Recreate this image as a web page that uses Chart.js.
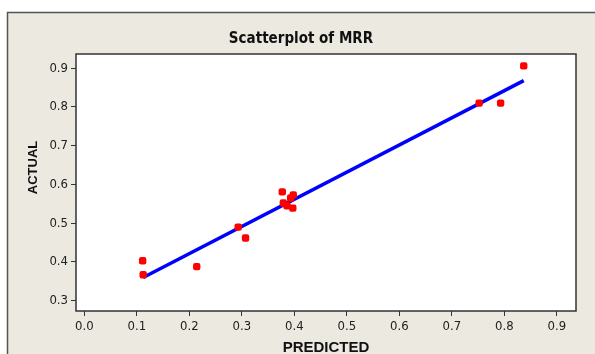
<!DOCTYPE html>
<html>
<head>
<meta charset="utf-8">
<script src="https://cdn.jsdelivr.net/npm/chart.js@4/dist/chart.umd.min.js"></script>
<style>
  html, body { margin: 0; padding: 0; background: #fff; }
</style>
</head>
<body>
<canvas id="mrrChart" width="595" height="354"></canvas>
<script>
const predicted = [0.111, 0.112, 0.214, 0.293, 0.307, 0.377, 0.379, 0.386, 0.393, 0.398, 0.397, 0.752, 0.793, 0.837];
const actual = [0.403, 0.367, 0.388, 0.490, 0.462, 0.581, 0.552, 0.545, 0.565, 0.573, 0.539, 0.810, 0.810, 0.906];
const fitPredicted = [0.112, 0.837];
const fitActual = [0.360, 0.868];
const xTicks = [0.0, 0.1, 0.2, 0.3, 0.4, 0.5, 0.6, 0.7, 0.8, 0.9];
const yTicks = [0.3, 0.4, 0.5, 0.6, 0.7, 0.8, 0.9];

const tickFont = { family: "'DejaVu Sans Condensed', 'DejaVu Sans', sans-serif", size: 13 };

// beige panel, outer frame, white plot area and its border, y axis title
const frame = {
  id: "frame",
  beforeDraw(chart) {
    const ctx = chart.ctx;
    const a = chart.chartArea;
    ctx.save();
    ctx.fillStyle = "#fff";
    ctx.fillRect(0, 0, chart.width, chart.height);
    ctx.fillStyle = "#ECE9E0";
    ctx.fillRect(7, 12, chart.width - 7, chart.height - 12);
    ctx.strokeStyle = "#555";
    ctx.lineWidth = 1.5;
    ctx.beginPath();
    ctx.moveTo(7.5, chart.height);
    ctx.lineTo(7.5, 12.5);
    ctx.lineTo(chart.width, 12.5);
    ctx.stroke();
    ctx.fillStyle = "#fff";
    ctx.fillRect(a.left, a.top, a.width, a.height);
    ctx.restore();
  },
  beforeDatasetsDraw(chart) {
    const ctx = chart.ctx;
    const a = chart.chartArea;
    ctx.save();
    ctx.strokeStyle = "#333";
    ctx.lineWidth = 1.5;
    ctx.strokeRect(a.left, a.top, a.width, a.height);
    ctx.translate(33, 167.5);
    ctx.rotate(-Math.PI / 2);
    ctx.fillStyle = "#111";
    ctx.font = "bold 13px 'Liberation Sans', Arial, sans-serif";
    ctx.textAlign = "center";
    ctx.textBaseline = "middle";
    ctx.fillText("ACTUAL", 0, 0);
    ctx.restore();
  },
};

new Chart(document.getElementById("mrrChart"), {
  type: "scatter",
  data: {
    datasets: [
      {
        label: "MRR",
        data: predicted.map((p, i) => ({ x: p, y: actual[i] })),
        backgroundColor: "#FF0000",
        borderWidth: 0,
        pointStyle: "rectRounded",
        pointRadius: 4.3,
      },
      {
        label: "Fit",
        data: fitPredicted.map((p, i) => ({ x: p, y: fitActual[i] })),
        showLine: true,
        borderColor: "#0000FF",
        borderWidth: 3.5,
        pointRadius: 0,
      },
    ],
  },
  options: {
    responsive: false,
    animation: false,
    layout: { padding: { left: 26, right: 19, top: 0, bottom: 0 } },
    plugins: {
      legend: { display: false },
      tooltip: { enabled: false },
      title: {
        display: true,
        text: "Scatterplot of MRR",
        color: "#111",
        font: { family: "'DejaVu Sans Condensed', 'DejaVu Sans', sans-serif", size: 15, weight: "bold" },
        padding: { top: 30.5, bottom: 5.5 },
      },
    },
    scales: {
      x: {
        type: "linear",
        min: -0.016,
        max: 0.9366,
        afterBuildTicks: (s) => { s.ticks = xTicks.map((v) => ({ value: v })); },
        afterFit: (s) => { s.height = 43; },
        ticks: { callback: (v) => v.toFixed(1), font: tickFont, color: "#222", padding: 3, maxRotation: 0, autoSkip: false },
        grid: { drawOnChartArea: false, tickLength: 5, color: "#333" },
        border: { display: false },
        title: {
          display: true,
          text: "PREDICTED",
          color: "#111",
          font: { family: "'Liberation Sans', Arial, sans-serif", size: 15, weight: "bold" },
          padding: { top: 0, bottom: -2.5 },
        },
      },
      y: {
        type: "linear",
        min: 0.2735,
        max: 0.9366,
        afterBuildTicks: (s) => { s.ticks = yTicks.map((v) => ({ value: v })); },
        afterFit: (s) => { s.width = 50; },
        ticks: { callback: (v) => v.toFixed(1), font: tickFont, color: "#222", padding: 3, autoSkip: false },
        grid: { drawOnChartArea: false, tickLength: 5, color: "#333" },
        border: { display: false },
      },
    },
  },
  plugins: [frame],
});
</script>
</body>
</html>
